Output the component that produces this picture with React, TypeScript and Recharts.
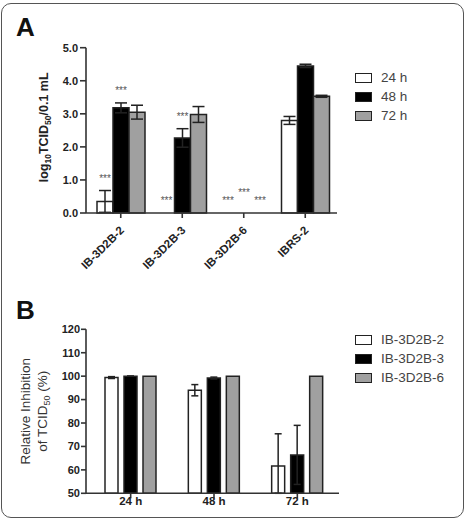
import React from 'react';
import { BarChart, Bar, XAxis, YAxis, ErrorBar, Rectangle } from 'recharts';

const FONT = '"Liberation Sans", Arial, Helvetica, sans-serif';
const INK = '#222';
const AXIS = '#333';
const GREY = '#a0a0a0';

// Panel A: virus titres per cell line at each time point
const cellLines = ['IB-3D2B-2', 'IB-3D2B-3', 'IB-3D2B-6', 'IBRS-2'];
const titre24 = [0.35, 0, 0, 2.8];
const titre24Err = [0.33, 0, 0, 0.12];
const titre48 = [3.18, 2.27, 0, 4.45];
const titre48Err = [0.15, 0.28, 0, 0.05];
const titre72 = [3.05, 2.98, 0, 3.53];
const titre72Err = [0.21, 0.24, 0, 0.03];
const sig24 = ['***', '***', '***', ''];
const sig48 = ['***', '***', '***', ''];
const sig72 = ['', '', '***', ''];
const titreTicks = [0, 1, 2, 3, 4, 5];
const timeLegend = ['24 h', '48 h', '72 h'];

// Panel B: relative inhibition per time point for each clone
const timePoints = ['24 h', '48 h', '72 h'];
const inhib2 = [99.4, 94.0, 61.7];
const inhib2Err = [0.4, 2.4, 13.7];
const inhib3 = [100, 99.2, 66.4];
const inhib3Err = [0, 0.4, 12.6];
const inhib6 = [100, 100, 100];
const inhibTicks = [50, 60, 70, 80, 90, 100, 110, 120];
const inhibFloor = 50;
const cloneLegend = ['IB-3D2B-2', 'IB-3D2B-3', 'IB-3D2B-6'];

const fills = ['#ffffff', '#000000', GREY];

const dataA = cellLines.map((name, i) => ({
  name,
  t24: titre24[i], t24e: titre24Err[i], s24: sig24[i],
  t48: titre48[i], t48e: titre48Err[i], s48: sig48[i],
  t72: titre72[i], t72e: titre72Err[i], s72: sig72[i],
}));

// lower whisker stops at the axis floor
const clampErr = (v: number, e: number) => [Math.min(e, v - inhibFloor), e];

const dataB = timePoints.map((name, i) => ({
  name,
  c2: inhib2[i], c2e: clampErr(inhib2[i], inhib2Err[i]),
  c3: inhib3[i], c3e: clampErr(inhib3[i], inhib3Err[i]),
  c6: inhib6[i],
}));

// bar shape that also prints the significance stars above the error bar
const starBar = (valKey: string, errKey: string, sigKey: string, lift: number) => (props: any) => {
  const { x, y, width, height, payload } = props;
  const v = Number(payload[valKey]) || 0;
  const e = Number(payload[errKey]) || 0;
  const s = payload[sigKey];
  const h = Math.abs(height);
  const ppu = v > 0 ? h / v : 0;
  const top = y - e * ppu;
  const extra = v === 0 ? lift : 0;
  return (
    <g>
      {h > 0 && <Rectangle {...props} />}
      {s ? (
        <text x={x + width / 2} y={top - 9 - extra} textAnchor="middle" fontSize={10}
          fill="#555" fontFamily={FONT}>{s}</text>
      ) : null}
    </g>
  );
};

const SlantTick = (props: any) => {
  const { x, y, payload } = props;
  return (
    <g transform={`translate(${x + 4},${y + 11}) rotate(-45)`}>
      <text x={0} y={0} textAnchor="end" fontSize={11.5} fontWeight="bold" fill={INK}
        fontFamily={FONT}>{payload.value}</text>
    </g>
  );
};

const FlatTick = (props: any) => {
  const { x, y, payload } = props;
  return (
    <text x={x} y={y + 4.5} textAnchor="middle" fontSize={11.5} fontWeight="bold" fill={INK}
      fontFamily={FONT}>{payload.value}</text>
  );
};

const tickStyle = { fontSize: 11, fontWeight: 'bold' as const, fill: INK, fontFamily: FONT };

const Legend = ({ labels, top, step }: { labels: string[]; top: number; step: number }) => (
  <div style={{ position: 'absolute', left: 355, top, fontFamily: FONT }}>
    {labels.map((l, i) => (
      <div key={l} style={{ position: 'absolute', top: i * step, left: 0, display: 'flex',
        alignItems: 'center', whiteSpace: 'nowrap', height: 14, marginTop: -7 }}>
        <div style={{ width: 17, height: 10, background: fills[i], border: '1.5px solid #222',
          boxSizing: 'border-box' }} />
        <span style={{ marginLeft: 9, fontSize: 13.5, color: '#444', lineHeight: '14px' }}>{l}</span>
      </div>
    ))}
  </div>
);

export default function App() {
  return (
    <div style={{ position: 'absolute', left: 0, top: 0, width: 467, height: 521,
      background: '#fff', overflow: 'hidden' }}>
      <div style={{ position: 'absolute', left: 1, top: 3, width: 463, height: 515,
        border: '1.5px solid #555', borderRadius: 10, boxSizing: 'border-box' }} />

      <div style={{ position: 'absolute', left: 16, top: 12, fontSize: 26, fontWeight: 'bold',
        fontFamily: FONT, lineHeight: '30px', color: '#111' }}>A</div>
      <div style={{ position: 'absolute', left: 16, top: 295, fontSize: 26, fontWeight: 'bold',
        fontFamily: FONT, lineHeight: '30px', color: '#111' }}>B</div>

      <div style={{ position: 'absolute', left: 0, top: 0 }}>
        <BarChart width={467} height={285} data={dataA} barSize={16} barGap={0}
          margin={{ top: 47.7, right: 130, bottom: 0, left: 0 }}>
          <XAxis dataKey="name" height={72} tick={<SlantTick />} tickSize={5} interval={0}
            padding={{ left: 4, right: 1 }}
            axisLine={{ stroke: AXIS, strokeWidth: 1.6 }} tickLine={{ stroke: AXIS, strokeWidth: 1.6 }} />
          <YAxis width={86} domain={[0, 5]} ticks={titreTicks} tickSize={6} tickMargin={2}
            tickFormatter={(v: number) => v.toFixed(1)} tick={tickStyle} interval={0}
            axisLine={{ stroke: AXIS, strokeWidth: 1.6 }} tickLine={{ stroke: AXIS, strokeWidth: 1.6 }}
            label={{
              content: (p: any) => {
                const vb = p.viewBox || {};
                const cx = (vb.x || 0) + 48;
                const cy = (vb.y || 0) + (vb.height || 0) / 2 - 3;
                return (
                  <text transform={`rotate(-90 ${cx} ${cy})`} x={cx} y={cy} textAnchor="middle"
                    fontSize={12.5} fontWeight="bold" fill={INK} fontFamily={FONT}>
                    log<tspan fontSize={8.5} dy={3}>10</tspan>
                    <tspan dy={-3}>TCID</tspan>
                    <tspan fontSize={8.5} dy={3}>50</tspan>
                    <tspan dy={-3}>/0.1 mL</tspan>
                  </text>
                );
              },
            }} />
          <Bar dataKey="t24" fill={fills[0]} stroke={INK} strokeWidth={1.5} isAnimationActive={false}
            shape={starBar('t24', 't24e', 's24', 0)}>
            <ErrorBar dataKey="t24e" width={6} stroke={INK} strokeWidth={1.5} />
          </Bar>
          <Bar dataKey="t48" fill={fills[1]} stroke={INK} strokeWidth={1.5} isAnimationActive={false}
            shape={starBar('t48', 't48e', 's48', 8)}>
            <ErrorBar dataKey="t48e" width={6} stroke={INK} strokeWidth={1.5} />
          </Bar>
          <Bar dataKey="t72" fill={fills[2]} stroke={INK} strokeWidth={1.5} isAnimationActive={false}
            shape={starBar('t72', 't72e', 's72', 0)}>
            <ErrorBar dataKey="t72e" width={6} stroke={INK} strokeWidth={1.5} />
          </Bar>
        </BarChart>
      </div>
      <Legend labels={timeLegend} top={78} step={19.2} />

      <div style={{ position: 'absolute', left: 0, top: 300 }}>
        <BarChart width={467} height={221} data={dataB} barSize={13} barGap={6}
          margin={{ top: 29.3, right: 128, bottom: 0, left: 0 }}>
          <XAxis dataKey="name" height={27.7} tick={<FlatTick />} tickSize={5} interval={0}
            padding={{ left: 3, right: 0 }}
            axisLine={{ stroke: AXIS, strokeWidth: 1.6 }} tickLine={{ stroke: AXIS, strokeWidth: 1.6 }} />
          <YAxis width={86} domain={[50, 120]} allowDataOverflow ticks={inhibTicks} interval={0}
            tickSize={5} tickMargin={1} tick={tickStyle}
            axisLine={{ stroke: AXIS, strokeWidth: 1.6 }} tickLine={{ stroke: AXIS, strokeWidth: 1.6 }}
            label={{
              content: (p: any) => {
                const vb = p.viewBox || {};
                const cy = (vb.y || 0) + (vb.height || 0) / 2;
                const x1 = (vb.x || 0) + 30;
                const x2 = (vb.x || 0) + 47;
                return (
                  <g fontSize={13.5} fill="#333" fontFamily={FONT}>
                    <text transform={`rotate(-90 ${x1} ${cy})`} x={x1} y={cy} textAnchor="middle">
                      Relative Inhibition
                    </text>
                    <text transform={`rotate(-90 ${x2} ${cy})`} x={x2} y={cy} textAnchor="middle">
                      of TCID<tspan fontSize={9} dy={3}>50</tspan><tspan dy={-3}> (%)</tspan>
                    </text>
                  </g>
                );
              },
            }} />
          <Bar dataKey="c2" fill={fills[0]} stroke={INK} strokeWidth={1.5} isAnimationActive={false}>
            <ErrorBar dataKey="c2e" width={3.5} stroke={INK} strokeWidth={1.5} />
          </Bar>
          <Bar dataKey="c3" fill={fills[1]} stroke={INK} strokeWidth={1.5} isAnimationActive={false}>
            <ErrorBar dataKey="c3e" width={3.5} stroke={INK} strokeWidth={1.5} />
          </Bar>
          <Bar dataKey="c6" fill={fills[2]} stroke={INK} strokeWidth={1.5} isAnimationActive={false} />
        </BarChart>
      </div>
      <Legend labels={cloneLegend} top={340} step={18.8} />
    </div>
  );
}
